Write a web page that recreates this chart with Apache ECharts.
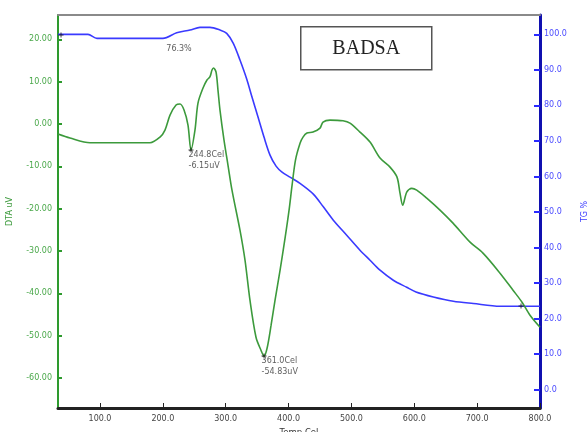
<!DOCTYPE html>
<html>
<head>
<meta charset="utf-8">
<script src="https://cdn.jsdelivr.net/npm/echarts@6/dist/echarts.min.js"></script>
<style>html,body{margin:0;padding:0;background:#fff}#c{width:587px;height:432px}</style>
</head>
<body>
<div id="c"></div>
<script>
// ---- data ----
const dtaTemp = [33.2, 52.3, 84.1, 179.6, 195.5, 203.4, 211.4, 221.0, 227.3, 233.7, 240.0, 244.8, 251.1, 255.9, 263.9, 270.2, 275.0, 278.2, 280.6, 284.6, 287.7, 290.9, 297.3, 303.6, 310.0, 322.7, 330.7, 338.6, 348.2, 356.1, 361.0, 365.8, 372.2, 378.5, 386.5, 394.4, 400.8, 405.6, 411.0, 418.4, 423.0, 429.3, 438.9, 450.0, 454.8, 465.9, 486.6, 497.7, 513.6, 529.6, 545.5, 561.4, 572.5, 577.3, 581.6, 588.0, 595.9, 603.9, 619.8, 640.9, 661.6, 688.7, 709.3, 736.4, 757.1, 771.4, 784.1, 800];
const dtaValue = [-2.39, -3.33, -4.44, -4.44, -3.10, -1.44, 2.10, 4.47, 4.71, 3.29, -0.26, -6.15, -1.44, 4.94, 8.49, 10.38, 11.16, 12.74, 13.22, 12.27, 8.01, 3.29, -3.81, -9.71, -15.63, -25.08, -32.17, -41.63, -50.38, -53.45, -54.83, -52.98, -47.54, -41.63, -34.54, -26.97, -20.35, -14.44, -8.53, -4.51, -3.10, -2.15, -1.91, -0.97, 0.45, 0.92, 0.76, 0.21, -1.91, -4.28, -8.06, -10.19, -12.55, -16.34, -19.18, -16.10, -15.22, -15.63, -17.52, -20.35, -23.43, -27.92, -30.52, -35.25, -39.27, -42.10, -45.18, -48.01];

const tgTemp = [33.2, 80.9, 95.2, 200.2, 222.0, 243.2, 259.1, 275.0, 290.9, 301.6, 312.1, 322.7, 333.4, 341.8, 351.4, 360.9, 370.5, 380.1, 389.6, 402.3, 418.2, 439.4, 455.3, 471.2, 492.5, 513.6, 529.6, 545.5, 566.6, 587.9, 602.7, 630.3, 662.1, 693.9, 736.4, 800];
const tgValue = [100.0, 100.0, 98.87, 98.87, 100.45, 101.21, 101.97, 101.97, 101.21, 100.28, 97.46, 92.77, 87.42, 82.34, 76.71, 71.07, 66.00, 62.90, 61.21, 59.80, 58.03, 55.01, 51.44, 47.69, 43.46, 39.24, 36.42, 33.60, 30.79, 28.81, 27.49, 26.08, 24.87, 24.22, 23.46, 23.46];

const xTicks = [100, 200, 300, 400, 500, 600, 700, 800];
const dtaTicks = [-60, -50, -40, -30, -20, -10, 0, 10, 20];
const tgTicks = [0, 10, 20, 30, 40, 50, 60, 70, 80, 90, 100];

const dtaMarkTemp = [244.8, 361.0];
const dtaMarkValue = [-6.15, -54.83];
const dtaMarkLabel = ['244.8Cel\n-6.15uV', '361.0Cel\n-54.83uV'];
const tgMarkTemp = [38.0, 769.8];
const tgMarkValue = [99.8, 23.5];
const tgNoteTemp = [225.7];
const tgNoteValue = [95.9];
const tgNoteLabel = ['76.3%'];
const titleText = 'BADSA';

// ---- chart ----
const green = '#3c9a3c';
const blue = '#3a3aff';
const zip = (a, b) => a.map((v, i) => [v, b[i]]);
const cross = 'path://M2,0L3,0L3,2L5,2L5,3L3,3L3,5L2,5L2,3L0,3L0,2L2,2Z';
const lblFont = { fontFamily: 'DejaVu Sans', fontSize: 8 };

const chart = echarts.init(document.getElementById('c'), null, { renderer: 'canvas' });
chart.setOption({
  backgroundColor: '#fff',
  animation: false,
  grid: { left: 58, right: 47, top: 15, bottom: 24, containLabel: false, outerBoundsMode: 'none' },
  xAxis: [{
    type: 'value', min: 33.2, max: 800,
    name: 'Temp Cel', nameLocation: 'middle', nameGap: 19,
    nameTextStyle: { color: '#333', fontFamily: 'DejaVu Sans', fontSize: 8.5 },
    axisLine: { show: true, onZero: false, lineStyle: { color: '#222', width: 3 } },
    axisTick: { show: true, inside: true, length: 5, customValues: xTicks, lineStyle: { color: '#222', width: 1 } },
    axisLabel: { customValues: xTicks, color: '#444', margin: 7, ...lblFont, formatter: v => v.toFixed(1) },
    splitLine: { show: false }
  }, {
    type: 'value', min: 33.2, max: 800, position: 'top',
    axisLine: { show: true, onZero: false, lineStyle: { color: '#8a8a8a', width: 2 } },
    axisTick: { show: false }, axisLabel: { show: false }, splitLine: { show: false }
  }],
  yAxis: [{
    type: 'value', min: -67.09, max: 25.74, position: 'left',
    name: 'DTA uV', nameLocation: 'middle', nameGap: 44, nameRotate: 90,
    nameTextStyle: { color: green, fontFamily: 'DejaVu Sans', fontSize: 8 },
    axisLine: { show: true, onZero: false, lineStyle: { color: '#2e9a2e', width: 2 } },
    axisTick: { show: true, inside: true, length: 4, customValues: dtaTicks, lineStyle: { color: '#2e9a2e', width: 2 } },
    axisLabel: { customValues: dtaTicks, color: '#4aa84a', margin: 6, ...lblFont, formatter: v => v.toFixed(2) },
    splitLine: { show: false }
  }, {
    type: 'value', min: -5.18, max: 105.44, position: 'right',
    name: 'TG %', nameLocation: 'middle', nameGap: 41, nameRotate: 90,
    nameTextStyle: { color: blue, fontFamily: 'DejaVu Sans', fontSize: 8 },
    axisLine: { show: true, onZero: false, lineStyle: { color: '#1010b0', width: 3 } },
    axisTick: { show: true, inside: true, length: 6, customValues: tgTicks, lineStyle: { color: '#2a2aff', width: 2 } },
    axisLabel: { customValues: tgTicks, color: '#4a4aff', margin: 4, ...lblFont, formatter: v => v.toFixed(1) },
    splitLine: { show: false }
  }],
  series: [{
    name: 'TG', type: 'line', xAxisIndex: 0, yAxisIndex: 1,
    data: zip(tgTemp, tgValue), showSymbol: false, smooth: 0.3,
    lineStyle: { color: blue, width: 1.6 }, z: 3
  }, {
    name: 'DTA', type: 'line', xAxisIndex: 0, yAxisIndex: 0,
    data: zip(dtaTemp, dtaValue), showSymbol: false, smooth: 0.3,
    lineStyle: { color: green, width: 1.6 }, z: 4
  }, {
    name: 'DTA marks', type: 'scatter', xAxisIndex: 0, yAxisIndex: 0,
    data: dtaMarkTemp.map((t, i) => ({ value: [t, dtaMarkValue[i]], label: { formatter: dtaMarkLabel[i] } })),
    symbol: cross, symbolSize: 5, itemStyle: { color: '#111' },
    label: { show: true, position: [0, 2], align: 'left', verticalAlign: 'top', color: '#333', lineHeight: 11, ...lblFont }, z: 6
  }, {
    name: 'TG marks', type: 'scatter', xAxisIndex: 0, yAxisIndex: 1,
    data: zip(tgMarkTemp, tgMarkValue),
    symbol: cross, symbolSize: 5, itemStyle: { color: '#111' }, z: 6
  }, {
    name: 'TG note', type: 'scatter', xAxisIndex: 0, yAxisIndex: 1,
    data: tgNoteTemp.map((t, i) => ({ value: [t, tgNoteValue[i]], label: { formatter: tgNoteLabel[i] } })),
    symbolSize: 0,
    label: { show: true, position: 'inside', color: '#333', ...lblFont }, z: 6
  }],
  graphic: [{
    type: 'group', left: 300, top: 26,
    children: [{
      type: 'rect', shape: { x: 0, y: 0, width: 131, height: 43 },
      style: { fill: '#fff', stroke: '#555', lineWidth: 1.5 }
    }, {
      type: 'text', x: 65.5, y: 22,
      style: { text: titleText, fill: '#222', font: '20px "Liberation Serif"', align: 'center', verticalAlign: 'middle' }
    }]
  }]
});
</script>
</body>
</html>
